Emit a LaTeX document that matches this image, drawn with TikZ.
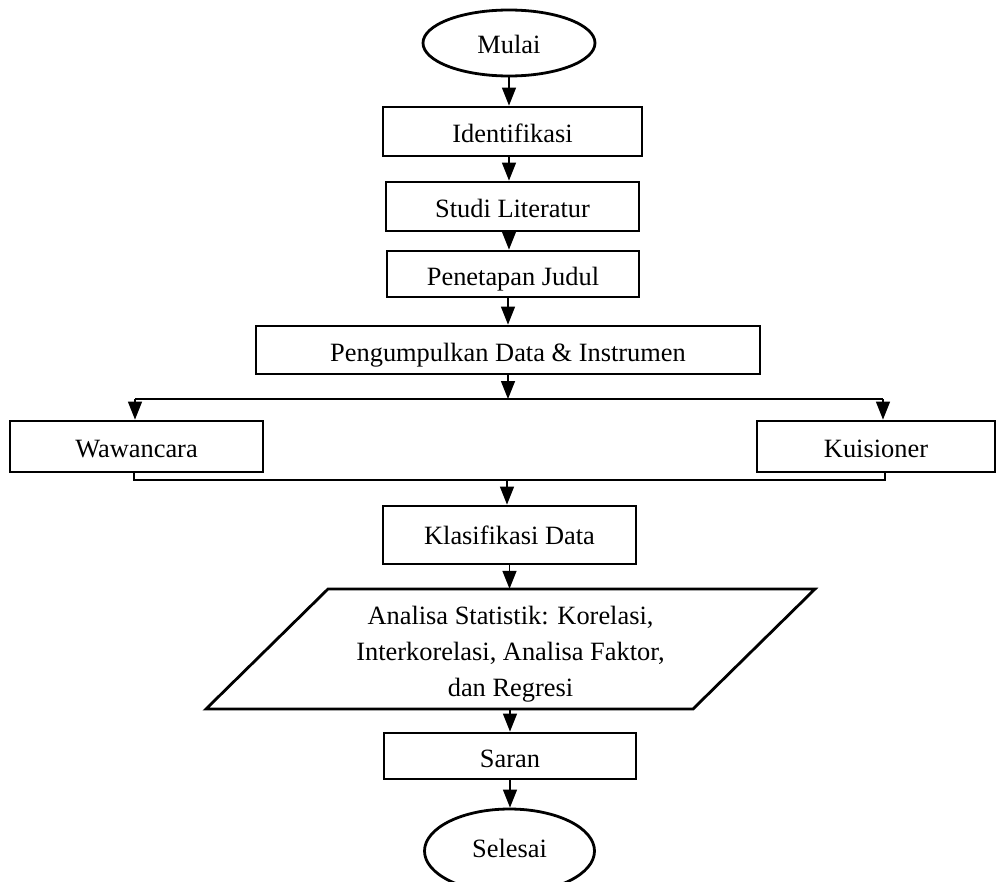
\documentclass[tikz,border=0pt]{standalone}
\usepackage{fontspec}
\setmainfont{Liberation Serif}
\usetikzlibrary{arrows.meta,shapes.geometric,calc}
\begin{document}
\begin{tikzpicture}[x=1pt,y=-1pt,
  txt/.style={font=\fontsize{26.4}{36}\selectfont},
  box/.style={txt,draw,line width=2.8pt,rectangle,inner sep=0pt,text height=22pt,text depth=0pt},
  term/.style={txt,draw,line width=2.8pt,ellipse,inner sep=0pt},
  conn/.style={line width=1.4pt},
  arr/.style={conn,-{Triangle[width=14pt,length=18pt]}}]
\clip (0,0) rectangle (1000,881);
\useasboundingbox (0,0) rectangle (1000,881);

\node[term,minimum width=172pt,minimum height=66pt,text height=20pt,text depth=0pt] (mulai) at (509,43) {Mulai};
\node[box,minimum width=259pt,minimum height=49pt] (ident) at (512.5,131.5) {Identifikasi};
\node[box,minimum width=253pt,minimum height=49pt] (studi) at (512.5,206.5) {Studi Literatur};
\node[box,minimum width=252pt,minimum height=46pt] (penet) at (513,274) {Penetapan Judul};
\node[box,minimum width=504pt,minimum height=48pt] (peng) at (508,350) {Pengumpulkan Data \& Instrumen};
\node[box,minimum width=253pt,minimum height=51pt] (waw) at (136.5,446.5) {Wawancara};
\node[box,minimum width=238pt,minimum height=51pt] (kuis) at (876,446.5) {Kuisioner};
\node[box,minimum width=253pt,minimum height=58pt,text height=18pt] (klas) at (509.5,535) {Klasifikasi Data};
\node[minimum width=487pt,minimum height=120pt,inner sep=0pt] (para) at (510.5,649) {};
\draw[line width=2.8pt,line join=miter] (328,589) -- (815,589) -- (693,709) -- (206,709) -- cycle;
\node[txt,align=center,inner sep=0pt] (paratext) at ($(para.center)+(0,5)$)
  {Analisa Statistik: Korelasi,\\Interkorelasi, Analisa Faktor,\\dan Regresi};
\node[box,minimum width=252pt,minimum height=46pt] (saran) at (510,756) {Saran};
\node[term,minimum width=170pt,minimum height=84pt,text height=12pt,text depth=0pt] (selesai) at (509.5,851) {Selesai};

\coordinate (sp) at (508,399);
\coordinate (spL) at (135,399);
\coordinate (spR) at (883,399);
\coordinate (mL) at (134,480);
\coordinate (mR) at (885,480);
\coordinate (mC) at (507,480);

\draw[arr] (mulai.south) -- (mulai.south |- ident.north);
\draw[arr] (ident.south -| mulai.south) -- (mulai.south |- studi.north);
\draw[arr] (studi.south -| mulai.south) -- (mulai.south |- penet.north);
\draw[arr] (penet.south -| peng.south) -- (peng.north);
\draw[arr] (peng.south -| sp) -- (sp);
\draw[conn] (spL) -- (spR);
\draw[arr] (spL) -- (spL |- waw.north);
\draw[arr] (spR) -- (spR |- kuis.north);
\draw[conn] (mL |- waw.south) -- (mL) -- (mR) -- (mR |- kuis.south);
\draw[arr] (mC) -- (mC |- klas.north);
\draw[arr] (klas.south) -- (klas.south |- para.north);
\draw[arr] (para.south -| saran.north) -- (saran.north);
\draw[arr] (saran.south) -- (saran.south |- selesai.north);
\end{tikzpicture}
\end{document}
